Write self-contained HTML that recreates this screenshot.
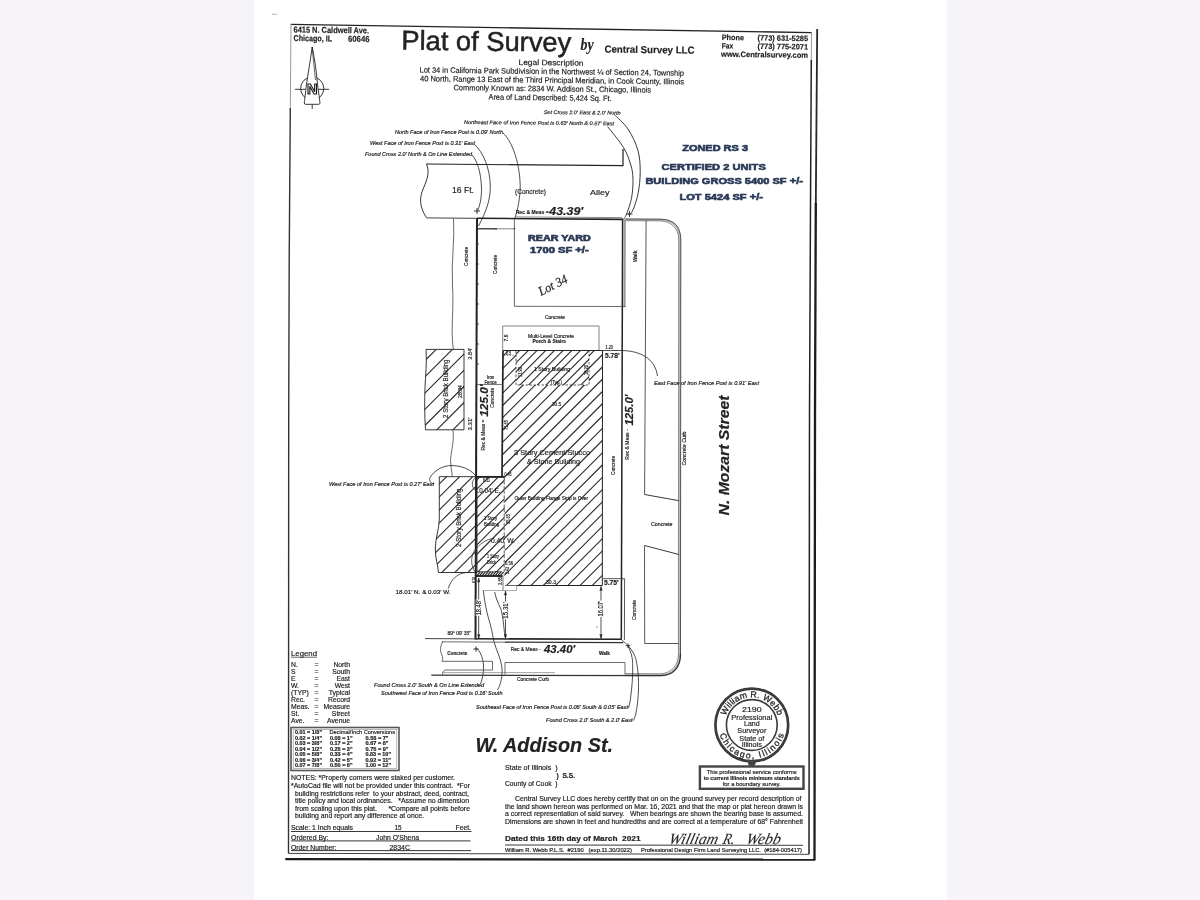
<!DOCTYPE html>
<html lang="en">
<head>
<meta charset="utf-8">
<title>Plat of Survey</title>
<style>
html,body{margin:0;padding:0;background:#f6f4f8;}
body{width:1200px;height:900px;overflow:hidden;position:relative;font-family:"Liberation Sans",sans-serif;}
#paper{position:absolute;left:254px;top:0;width:693px;height:900px;background:#fff;}
svg{position:absolute;left:0;top:0;}
svg text{font-family:"Liberation Sans",sans-serif;fill:#222;stroke:#222;stroke-width:0.18px;white-space:pre;}
</style>
</head>
<body>
<div id="paper"></div>
<svg width="1200" height="900" viewBox="0 0 1200 900" stroke="#222" fill="none">
<defs><filter id="soft" x="-2%" y="-2%" width="104%" height="104%"><feGaussianBlur stdDeviation="0.35"/></filter></defs>
<g filter="url(#soft)">
<path d="M290.8 24.4 L811.6 32.6" fill="none" stroke-width="1.4" />
<path d="M291 24.4 L290.3 110" fill="none" stroke="#999" />
<path d="M290.3 108 L289.2 260 L288.7 415 L288.5 853.5" fill="none" stroke-width="1.4" stroke="#333" />
<path d="M811.5 32.6 L811.3 62" fill="none" stroke="#999" />
<path d="M811.3 60 L810.5 205 L809.5 415 L809 854.3" fill="none" stroke-width="1.5" />
<path d="M288.5 853.4 L809 854.3" fill="none" stroke="#444" />
<path d="M817.2 29 L815.8 205" fill="none" stroke-width="1.8" stroke="#2a2a2a" />
<path d="M815.8 203 L815 415 L814.5 860" fill="none" stroke-width="2.3" stroke="#1a1a1a" />
<path d="M285.3 859.1 L815.3 859.6" fill="none" stroke-width="2.2" stroke="#1a1a1a" />
<line x1="272" y1="14.3" x2="277" y2="14.3" stroke-width="0.9" stroke="#aaa"/>
<text x="293.5" y="32.5" font-size="8.5" font-weight="bold" textLength="75.5" lengthAdjust="spacingAndGlyphs" transform="rotate(0.7 293.5 32.5)">6415 N. Caldwell Ave.</text>
<text x="293.5" y="41" font-size="8.5" font-weight="bold" textLength="38.5" lengthAdjust="spacingAndGlyphs" transform="rotate(0.7 293.5 41)">Chicago, IL</text>
<text x="348" y="41.7" font-size="8.5" font-weight="bold" textLength="21.5" lengthAdjust="spacingAndGlyphs" transform="rotate(0.7 348 41.7)">60646</text>
<text x="401.2" y="49.6" font-size="27.2" textLength="170" lengthAdjust="spacingAndGlyphs" transform="rotate(0.7 401 49.6)" style="stroke:#222;stroke-width:0.5">Plat of Survey</text>
<text x="580.5" y="50.3" font-size="17.5" font-weight="bold" font-style="italic" textLength="13" lengthAdjust="spacingAndGlyphs" style='font-family:"Liberation Serif",serif'>by</text>
<text x="604.4" y="52.5" font-size="10" font-weight="bold" textLength="90.2" lengthAdjust="spacingAndGlyphs" transform="rotate(0.7 604.4 52.5)">Central Survey LLC</text>
<text x="721.7" y="40" font-size="7.8" font-weight="bold" textLength="22.3" lengthAdjust="spacingAndGlyphs" transform="rotate(0.7 721.7 40)">Phone</text>
<text x="757.5" y="40.5" font-size="7.8" font-weight="bold" textLength="50.5" lengthAdjust="spacingAndGlyphs" transform="rotate(0.7 757.5 40.5)">(773) 631-5285</text>
<text x="721.7" y="48.4" font-size="7.8" font-weight="bold" textLength="11.5" lengthAdjust="spacingAndGlyphs" transform="rotate(0.7 721.7 48.4)">Fax</text>
<text x="757.5" y="48.9" font-size="7.8" font-weight="bold" textLength="50.5" lengthAdjust="spacingAndGlyphs" transform="rotate(0.7 757.5 48.9)">(773) 775-2071</text>
<text x="721" y="56.8" font-size="7.8" font-weight="bold" textLength="87" lengthAdjust="spacingAndGlyphs" transform="rotate(0.7 721 56.8)">www.Centralsurvey.com</text>
<text x="518.5" y="64.9" font-size="7.8" textLength="65" lengthAdjust="spacingAndGlyphs" transform="rotate(0.7 518.5 64.9)">Legal Description</text>
<text x="419.5" y="72.5" font-size="7.8" textLength="264.5" lengthAdjust="spacingAndGlyphs" transform="rotate(0.7 419.5 72.5)">Lot 34 in California Park Subdivision in the Northwest ¼ of Section 24, Township</text>
<text x="420" y="81.2" font-size="7.8" textLength="264" lengthAdjust="spacingAndGlyphs" transform="rotate(0.7 420 81.2)">40 North, Range 13 East of the Third Principal Meridian, in Cook County, Illinois</text>
<text x="453.5" y="90.2" font-size="7.8" textLength="197.5" lengthAdjust="spacingAndGlyphs" transform="rotate(0.7 453.5 90.2)">Commonly Known as: 2834 W. Addison St., Chicago, Illinois</text>
<text x="488.5" y="99.6" font-size="7.8" textLength="123" lengthAdjust="spacingAndGlyphs" transform="rotate(0.7 488.5 99.6)">Area of Land Described: 5,424 Sq. Ft.</text>
<circle cx="312.2" cy="88.5" r="11.6" stroke-width="0.9"/>
<line x1="295" y1="89.3" x2="329" y2="89.3" stroke-width="0.9"/>
<path d="M312.2 47 C310.5 60 308 73 306 88 C305.3 95 304.6 100 304.3 103 Q304.3 104.3 305.6 104.3 L318.7 104.3 Q320 104.3 320 103 C319.4 98 318.8 94 317.5 84 C316.5 72 314.5 58 312.2 47 Z" fill="#fff" stroke-width="0.9" />
<path d="M312.2 47 C313 58 314.5 70 315.5 80" fill="none" stroke-width="0.7" />
<line x1="312.2" y1="104.5" x2="312.2" y2="109" stroke-width="0.9"/>
<text x="312.3" y="94.4" font-size="14.2" text-anchor="middle" font-weight="bold" textLength="10.5" lengthAdjust="spacingAndGlyphs" style="fill:#fff;stroke:#151515;stroke-width:1.1">N</text>
<text x="543.7" y="114" font-size="5.2" font-style="italic" textLength="77" lengthAdjust="spacingAndGlyphs" transform="rotate(0.5 543.7 114)">Set Cross 2.0' East &amp; 2.0' North</text>
<text x="464" y="124" font-size="5.2" font-style="italic" textLength="150" lengthAdjust="spacingAndGlyphs" transform="rotate(0.5 464 124)">Northeast Face of Iron Fence Post is 0.63' North &amp; 0.57' East</text>
<text x="395" y="134" font-size="5.2" font-style="italic" textLength="108" lengthAdjust="spacingAndGlyphs">North Face of Iron Fence Post is 0.09' North</text>
<text x="370" y="145" font-size="5.2" font-style="italic" textLength="105" lengthAdjust="spacingAndGlyphs">West Face of Iron Fence Post is 0.31' East</text>
<text x="365" y="156" font-size="5.2" font-style="italic" textLength="107" lengthAdjust="spacingAndGlyphs">Found Cross 2.0' North &amp; On Line Extended</text>
<path d="M472 155 C477 160 481 172 481.5 188 C481.7 198 480 205 477.5 211" fill="none" stroke-width="0.8" />
<path d="M474.5 144.5 C483 152 490 168 490.3 186 C490.5 200 486 212 478.5 226" fill="none" stroke-width="0.8" />
<path d="M503 133 C511 140 519.5 160 520.2 185 C520.4 198 517.5 210 515 218" fill="none" stroke-width="0.8" />
<path d="M614.2 114.5 C616.5 116.9 623.9 122.9 627.9 128.9 C631.9 134.9 636.0 143.4 638.0 150.6 C640.0 157.8 640.2 165.1 640.2 172.3 C640.2 179.5 639.3 187.4 638.0 193.9 C636.7 200.4 634.0 207.9 632.3 211.3 C630.6 214.7 628.6 213.7 627.9 214.2" fill="none" stroke-width="0.9" />
<path d="M607.7 126.7 C610.4 130.2 619.8 141.3 623.6 147.7 C627.5 154.1 629.2 159.7 630.8 165.0 C632.4 170.3 632.9 173.9 633.0 179.5 C633.1 185.1 632.6 192.5 631.5 198.3 C630.4 204.1 627.7 210.9 626.5 214.2 C625.3 217.4 624.7 217.2 624.3 217.8" fill="none" stroke-width="0.9" />
<text x="682.2" y="151.2" font-size="8.5" font-weight="bold" textLength="65.8" lengthAdjust="spacingAndGlyphs" style="fill:#2a3a57;stroke:#2a3a57;stroke-width:0.6">ZONED RS 3</text>
<text x="661.5" y="169.7" font-size="8.9" font-weight="bold" textLength="104.3" lengthAdjust="spacingAndGlyphs" style="fill:#2a3a57;stroke:#2a3a57;stroke-width:0.6">CERTIFIED 2 UNITS</text>
<text x="645.4" y="183.9" font-size="8.9" font-weight="bold" textLength="157.5" lengthAdjust="spacingAndGlyphs" style="fill:#2a3a57;stroke:#2a3a57;stroke-width:0.6">BUILDING GROSS 5400 SF +/-</text>
<text x="679.4" y="199.9" font-size="8.9" font-weight="bold" textLength="83.6" lengthAdjust="spacingAndGlyphs" style="fill:#2a3a57;stroke:#2a3a57;stroke-width:0.6">LOT 5424 SF +/-</text>
<text x="528" y="241.4" font-size="8.2" font-weight="bold" textLength="62.7" lengthAdjust="spacingAndGlyphs" style="fill:#2a3a57;stroke:#2a3a57;stroke-width:0.6">REAR YARD</text>
<text x="530" y="252.6" font-size="8.6" font-weight="bold" textLength="58.7" lengthAdjust="spacingAndGlyphs" style="fill:#2a3a57;stroke:#2a3a57;stroke-width:0.6">1700 SF +/-</text>
<path d="M426.5 164 L623 165.7 L623 149" fill="none" stroke-width="1.2" />
<path d="M426.5 164 C430 172 427 180 423.5 188 C419 198 419.5 207 426.5 217.8" fill="none" stroke-width="0.9" />
<text x="452" y="193" font-size="9" textLength="22" lengthAdjust="spacingAndGlyphs">16 Ft.</text>
<text x="515" y="193.5" font-size="6.8" textLength="31" lengthAdjust="spacingAndGlyphs">(Concrete)</text>
<text x="590" y="195" font-size="8" textLength="19.5" lengthAdjust="spacingAndGlyphs">Alley</text>
<text x="515.7" y="214" font-size="5.4" font-weight="bold" textLength="33" lengthAdjust="spacingAndGlyphs">Rec &amp; Meas =</text>
<text x="549.3" y="215" font-size="10.8" font-weight="bold" font-style="italic" textLength="34" lengthAdjust="spacingAndGlyphs">43.39'</text>
<path d="M626 219.6 L661 219.9 C673 220 679.8 227 679.8 240 L679.5 654" fill="none" stroke-width="2.4" stroke="#bdbdbd" />
<path d="M426.5 217.9 L477 218.3" fill="none" stroke="#444" />
<path d="M622 219 L661 219.2 C673.5 219.4 680.8 226 680.8 240 L680.5 654" fill="none" stroke-width="0.9" stroke="#444" />
<path d="M626 220.7 L660 220.9 C671 221.1 678.7 228 678.7 240 L678.4 654" fill="none" stroke-width="0.7" stroke="#666" />
<path d="M477 218.3 L475.5 639.5" fill="none" stroke-width="2.0" />
<path d="M622.6 219.3 L621.3 639.5" fill="none" stroke-width="1.5" />
<path d="M477 218.3 L622.6 219.4" fill="none" stroke-width="1.6" />
<path d="M475.5 638.8 L621.3 639.3" fill="none" stroke-width="1.6" />
<path d="M624.7 220 L624.5 306.5" fill="none" stroke-width="2.2" stroke="#9a9a9a" />
<path d="M514.4 219 L514.4 306.3 L625.8 306.5" fill="none" stroke-width="0.8" stroke="#444" />
<path d="M514.5 216.9 L622 217.6" fill="none" stroke="#888" />
<path d="M477 228.8 L495 228.8" fill="none" stroke-width="1.2" />
<path d="M495 228.8 L514.7 228.8" fill="none" stroke-width="1.2" stroke="#999" />
<circle cx="496" cy="228.8" r="0.9" fill="#222" stroke="none"/>
<circle cx="514.5" cy="228.8" r="0.8" fill="#222" stroke="none"/>
<line x1="474" y1="211" x2="480" y2="211" stroke-width="0.9"/>
<line x1="477" y1="208" x2="477" y2="214" stroke-width="0.9"/>
<line x1="626.5" y1="214" x2="632.5" y2="214" stroke-width="0.9"/>
<line x1="629.5" y1="211" x2="629.5" y2="217" stroke-width="0.9"/>
<circle cx="478" cy="244" r="0.7" fill="#222" stroke="none"/>
<circle cx="478" cy="264" r="0.7" fill="#222" stroke="none"/>
<circle cx="478" cy="284" r="0.7" fill="#222" stroke="none"/>
<circle cx="478" cy="304" r="0.7" fill="#222" stroke="none"/>
<circle cx="478" cy="324" r="0.7" fill="#222" stroke="none"/>
<circle cx="478" cy="344" r="0.7" fill="#222" stroke="none"/>
<circle cx="478" cy="364" r="0.7" fill="#222" stroke="none"/>
<text x="468" y="266" font-size="5" textLength="19" lengthAdjust="spacingAndGlyphs" transform="rotate(-90 468 266)">Concrete</text>
<text x="496.5" y="274" font-size="5" textLength="19" lengthAdjust="spacingAndGlyphs" transform="rotate(-90 496.5 274)">Concrete</text>
<text x="637.3" y="262" font-size="5.4" font-weight="bold" textLength="11.5" lengthAdjust="spacingAndGlyphs" transform="rotate(-90 637.3 262)">Walk</text>
<path d="M453.5 218.5 C455 240 451 262 452.5 285 C454 310 450.5 330 453.3 349.4" fill="none" stroke-width="0.8" stroke="#444" />
<text x="541" y="296" font-size="13" font-style="italic" textLength="31" lengthAdjust="spacingAndGlyphs" transform="rotate(-27 541 296)" style='font-family:"Liberation Serif",serif'>Lot 34</text>
<text x="545" y="319" font-size="5" textLength="20" lengthAdjust="spacingAndGlyphs">Concrete</text>
<path d="M646.1 220.5 L644.6 494.5" fill="none" stroke-width="0.9" stroke="#444" />
<path d="M644.5 545.5 L644.7 643.5 L678.5 643.5" fill="none" stroke-width="0.9" stroke="#444" />
<path d="M644.6 494.5 L679 500.7" fill="none" stroke="#3a3a3a" />
<path d="M644.5 545.5 L679 554.5" fill="none" stroke="#3a3a3a" />
<text x="651" y="525.5" font-size="5" textLength="21.5" lengthAdjust="spacingAndGlyphs">Concrete</text>
<text x="686" y="465.5" font-size="5" textLength="34" lengthAdjust="spacingAndGlyphs" transform="rotate(-90 686 465.5)">Concrete Curb</text>
<text x="635.8" y="620" font-size="5" textLength="20" lengthAdjust="spacingAndGlyphs" transform="rotate(-90 635.8 620)">Concrete</text>
<path d="M502.7 350.5 L502.7 326 L599 326 L599 350.5" fill="none" stroke-width="0.8" stroke="#666" />
<text x="528" y="337.5" font-size="5" textLength="46" lengthAdjust="spacingAndGlyphs">Multi-Level Concrete</text>
<text x="532.5" y="343" font-size="5" font-weight="bold" textLength="33.5" lengthAdjust="spacingAndGlyphs">Porch &amp; Stairs</text>
<text x="507.5" y="341.5" font-size="5" textLength="7" lengthAdjust="spacingAndGlyphs" transform="rotate(-90 507.5 341.5)">7.6</text>
<clipPath id="ho"><path d="M476.5 477 L504.6 477 L504.6 572 L476 572 Z"/></clipPath>
<g clip-path="url(#ho)" stroke="#2a2a2a" stroke-width="1.1">
<line x1="400" y1="333.5" x2="640" y2="93.5"/>
<line x1="400" y1="342.8" x2="640" y2="102.8"/>
<line x1="400" y1="352.1" x2="640" y2="112.1"/>
<line x1="400" y1="361.4" x2="640" y2="121.4"/>
<line x1="400" y1="370.7" x2="640" y2="130.7"/>
<line x1="400" y1="380.0" x2="640" y2="140.0"/>
<line x1="400" y1="389.3" x2="640" y2="149.3"/>
<line x1="400" y1="398.6" x2="640" y2="158.6"/>
<line x1="400" y1="407.9" x2="640" y2="167.9"/>
<line x1="400" y1="417.2" x2="640" y2="177.2"/>
<line x1="400" y1="426.5" x2="640" y2="186.5"/>
<line x1="400" y1="435.8" x2="640" y2="195.8"/>
<line x1="400" y1="445.1" x2="640" y2="205.1"/>
<line x1="400" y1="454.4" x2="640" y2="214.4"/>
<line x1="400" y1="463.7" x2="640" y2="223.7"/>
<line x1="400" y1="473.0" x2="640" y2="233.0"/>
<line x1="400" y1="482.3" x2="640" y2="242.3"/>
<line x1="400" y1="491.6" x2="640" y2="251.6"/>
<line x1="400" y1="500.9" x2="640" y2="260.9"/>
<line x1="400" y1="510.2" x2="640" y2="270.2"/>
<line x1="400" y1="519.5" x2="640" y2="279.5"/>
<line x1="400" y1="528.8" x2="640" y2="288.8"/>
<line x1="400" y1="538.1" x2="640" y2="298.1"/>
<line x1="400" y1="547.4" x2="640" y2="307.4"/>
<line x1="400" y1="556.7" x2="640" y2="316.7"/>
<line x1="400" y1="566.0" x2="640" y2="326.0"/>
<line x1="400" y1="575.3" x2="640" y2="335.3"/>
<line x1="400" y1="584.6" x2="640" y2="344.6"/>
<line x1="400" y1="593.9" x2="640" y2="353.9"/>
<line x1="400" y1="603.2" x2="640" y2="363.2"/>
<line x1="400" y1="612.5" x2="640" y2="372.5"/>
<line x1="400" y1="621.8" x2="640" y2="381.8"/>
<line x1="400" y1="631.1" x2="640" y2="391.1"/>
<line x1="400" y1="640.4" x2="640" y2="400.4"/>
<line x1="400" y1="649.7" x2="640" y2="409.7"/>
<line x1="400" y1="659.0" x2="640" y2="419.0"/>
<line x1="400" y1="668.3" x2="640" y2="428.3"/>
<line x1="400" y1="677.6" x2="640" y2="437.6"/>
<line x1="400" y1="686.9" x2="640" y2="446.9"/>
<line x1="400" y1="696.2" x2="640" y2="456.2"/>
<line x1="400" y1="705.5" x2="640" y2="465.5"/>
<line x1="400" y1="714.8" x2="640" y2="474.8"/>
<line x1="400" y1="724.1" x2="640" y2="484.1"/>
<line x1="400" y1="733.4" x2="640" y2="493.4"/>
<line x1="400" y1="742.7" x2="640" y2="502.7"/>
<line x1="400" y1="752.0" x2="640" y2="512.0"/>
<line x1="400" y1="761.3" x2="640" y2="521.3"/>
<line x1="400" y1="770.6" x2="640" y2="530.6"/>
<line x1="400" y1="779.9" x2="640" y2="539.9"/>
<line x1="400" y1="789.2" x2="640" y2="549.2"/>
<line x1="400" y1="798.5" x2="640" y2="558.5"/>
<line x1="400" y1="807.8" x2="640" y2="567.8"/>
<line x1="400" y1="817.1" x2="640" y2="577.1"/>
<line x1="400" y1="826.4" x2="640" y2="586.4"/>
<line x1="400" y1="835.7" x2="640" y2="595.7"/>
</g>
<clipPath id="hb"><path clip-rule="evenodd" d="M503 350.5 L602.5 350.5 L602.3 585.5 L505 585.5 L504.6 477 L502 477 Z M516 350.5 L589 350.5 L589 385 L516 385 Z"/></clipPath>
<g clip-path="url(#hb)" stroke="#2a2a2a" stroke-width="1.1">
<line x1="400" y1="336.4" x2="640" y2="96.4"/>
<line x1="400" y1="348.7" x2="640" y2="108.7"/>
<line x1="400" y1="360.9" x2="640" y2="120.9"/>
<line x1="400" y1="373.2" x2="640" y2="133.2"/>
<line x1="400" y1="385.5" x2="640" y2="145.5"/>
<line x1="400" y1="397.7" x2="640" y2="157.7"/>
<line x1="400" y1="410.0" x2="640" y2="170.0"/>
<line x1="400" y1="422.2" x2="640" y2="182.2"/>
<line x1="400" y1="434.5" x2="640" y2="194.5"/>
<line x1="400" y1="446.8" x2="640" y2="206.8"/>
<line x1="400" y1="459.0" x2="640" y2="219.0"/>
<line x1="400" y1="471.3" x2="640" y2="231.3"/>
<line x1="400" y1="483.5" x2="640" y2="243.5"/>
<line x1="400" y1="495.8" x2="640" y2="255.8"/>
<line x1="400" y1="508.1" x2="640" y2="268.1"/>
<line x1="400" y1="520.3" x2="640" y2="280.3"/>
<line x1="400" y1="532.6" x2="640" y2="292.6"/>
<line x1="400" y1="544.8" x2="640" y2="304.8"/>
<line x1="400" y1="557.1" x2="640" y2="317.1"/>
<line x1="400" y1="569.4" x2="640" y2="329.4"/>
<line x1="400" y1="581.6" x2="640" y2="341.6"/>
<line x1="400" y1="593.9" x2="640" y2="353.9"/>
<line x1="400" y1="606.1" x2="640" y2="366.1"/>
<line x1="400" y1="618.4" x2="640" y2="378.4"/>
<line x1="400" y1="630.7" x2="640" y2="390.7"/>
<line x1="400" y1="642.9" x2="640" y2="402.9"/>
<line x1="400" y1="655.2" x2="640" y2="415.2"/>
<line x1="400" y1="667.4" x2="640" y2="427.4"/>
<line x1="400" y1="679.7" x2="640" y2="439.7"/>
<line x1="400" y1="692.0" x2="640" y2="452.0"/>
<line x1="400" y1="704.2" x2="640" y2="464.2"/>
<line x1="400" y1="716.5" x2="640" y2="476.5"/>
<line x1="400" y1="728.7" x2="640" y2="488.7"/>
<line x1="400" y1="741.0" x2="640" y2="501.0"/>
<line x1="400" y1="753.3" x2="640" y2="513.3"/>
<line x1="400" y1="765.5" x2="640" y2="525.5"/>
<line x1="400" y1="777.8" x2="640" y2="537.8"/>
<line x1="400" y1="790.0" x2="640" y2="550.0"/>
<line x1="400" y1="802.3" x2="640" y2="562.3"/>
<line x1="400" y1="814.6" x2="640" y2="574.6"/>
<line x1="400" y1="826.8" x2="640" y2="586.8"/>
<line x1="400" y1="839.1" x2="640" y2="599.1"/>
</g>
<clipPath id="hd"><path d="M516 350.5 L589 350.5 L589 385 L516 385 Z"/></clipPath>
<g clip-path="url(#hd)" stroke="#2a2a2a" stroke-width="1.1">
<line x1="400" y1="330.9" x2="640" y2="90.9"/>
<line x1="400" y1="339.6" x2="640" y2="99.6"/>
<line x1="400" y1="348.3" x2="640" y2="108.3"/>
<line x1="400" y1="357.0" x2="640" y2="117.0"/>
<line x1="400" y1="365.7" x2="640" y2="125.7"/>
<line x1="400" y1="374.4" x2="640" y2="134.4"/>
<line x1="400" y1="383.1" x2="640" y2="143.1"/>
<line x1="400" y1="391.8" x2="640" y2="151.8"/>
<line x1="400" y1="400.5" x2="640" y2="160.5"/>
<line x1="400" y1="409.2" x2="640" y2="169.2"/>
<line x1="400" y1="417.9" x2="640" y2="177.9"/>
<line x1="400" y1="426.6" x2="640" y2="186.6"/>
<line x1="400" y1="435.3" x2="640" y2="195.3"/>
<line x1="400" y1="444.0" x2="640" y2="204.0"/>
<line x1="400" y1="452.7" x2="640" y2="212.7"/>
<line x1="400" y1="461.4" x2="640" y2="221.4"/>
<line x1="400" y1="470.1" x2="640" y2="230.1"/>
<line x1="400" y1="478.8" x2="640" y2="238.8"/>
<line x1="400" y1="487.5" x2="640" y2="247.5"/>
<line x1="400" y1="496.2" x2="640" y2="256.2"/>
<line x1="400" y1="504.9" x2="640" y2="264.9"/>
<line x1="400" y1="513.6" x2="640" y2="273.6"/>
<line x1="400" y1="522.3" x2="640" y2="282.3"/>
<line x1="400" y1="531.0" x2="640" y2="291.0"/>
<line x1="400" y1="539.7" x2="640" y2="299.7"/>
<line x1="400" y1="548.4" x2="640" y2="308.4"/>
<line x1="400" y1="557.1" x2="640" y2="317.1"/>
<line x1="400" y1="565.8" x2="640" y2="325.8"/>
<line x1="400" y1="574.5" x2="640" y2="334.5"/>
<line x1="400" y1="583.2" x2="640" y2="343.2"/>
<line x1="400" y1="591.9" x2="640" y2="351.9"/>
<line x1="400" y1="600.6" x2="640" y2="360.6"/>
<line x1="400" y1="609.3" x2="640" y2="369.3"/>
<line x1="400" y1="618.0" x2="640" y2="378.0"/>
<line x1="400" y1="626.7" x2="640" y2="386.7"/>
<line x1="400" y1="635.4" x2="640" y2="395.4"/>
<line x1="400" y1="644.1" x2="640" y2="404.1"/>
<line x1="400" y1="652.8" x2="640" y2="412.8"/>
<line x1="400" y1="661.5" x2="640" y2="421.5"/>
<line x1="400" y1="670.2" x2="640" y2="430.2"/>
<line x1="400" y1="678.9" x2="640" y2="438.9"/>
<line x1="400" y1="687.6" x2="640" y2="447.6"/>
<line x1="400" y1="696.3" x2="640" y2="456.3"/>
<line x1="400" y1="705.0" x2="640" y2="465.0"/>
<line x1="400" y1="713.7" x2="640" y2="473.7"/>
<line x1="400" y1="722.4" x2="640" y2="482.4"/>
<line x1="400" y1="731.1" x2="640" y2="491.1"/>
<line x1="400" y1="739.8" x2="640" y2="499.8"/>
<line x1="400" y1="748.5" x2="640" y2="508.5"/>
<line x1="400" y1="757.2" x2="640" y2="517.2"/>
<line x1="400" y1="765.9" x2="640" y2="525.9"/>
<line x1="400" y1="774.6" x2="640" y2="534.6"/>
<line x1="400" y1="783.3" x2="640" y2="543.3"/>
<line x1="400" y1="792.0" x2="640" y2="552.0"/>
<line x1="400" y1="800.7" x2="640" y2="560.7"/>
<line x1="400" y1="809.4" x2="640" y2="569.4"/>
<line x1="400" y1="818.1" x2="640" y2="578.1"/>
<line x1="400" y1="826.8" x2="640" y2="586.8"/>
<line x1="400" y1="835.5" x2="640" y2="595.5"/>
</g>
<path d="M503 350.5 L602.5 350.5 L602.3 585.5 L505 585.5" fill="none" />
<path d="M503 350.5 L502 477" fill="none" stroke-width="1.7" />
<path d="M476.5 476.9 L504.7 476.9" fill="none" stroke-width="1.9" />
<path d="M475.8 576 L502.5 576" fill="none" stroke-width="1.9" />
<path d="M477.0 575.6 l3.2 -3.8 M479.6 575.6 l3.2 -3.8 M482.2 575.6 l3.2 -3.8 M484.8 575.6 l3.2 -3.8 M487.4 575.6 l3.2 -3.8 M490.0 575.6 l3.2 -3.8 M492.6 575.6 l3.2 -3.8 M495.2 575.6 l3.2 -3.8 M497.8 575.6 l3.2 -3.8 M500.4 575.6 l3.2 -3.8 " fill="none" stroke-width="1.1" />
<path d="M477 571.8 L502 571.8" fill="none" stroke-width="0.8" />
<path d="M516 350.5 L516 385 L589 385 L589 350.5" fill="none" stroke-width="0.8" stroke="#333" stroke-dasharray="2.5 1.5" />
<path d="M504 355.5 L516 355.5" fill="none" stroke-width="0.5" stroke="#444" stroke-dasharray="1.5 1.2" />
<path d="M504.2 477 L504.2 576" fill="none" stroke-width="0.8" stroke="#333" stroke-dasharray="3 1.6" />
<path d="M477 384.5 L503 384.5" fill="none" stroke-width="0.8" stroke="#555" />
<text x="486.7" y="378.8" font-size="5" textLength="7.6" lengthAdjust="spacingAndGlyphs">Iron</text>
<text x="484.4" y="383.6" font-size="5" textLength="12.3" lengthAdjust="spacingAndGlyphs">Fence</text>
<path d="M602.5 350.5 L622 350.5 C640 351 655 358 657.5 376" fill="none" stroke-width="0.8" />
<text x="605.5" y="349" font-size="5" textLength="7.5" lengthAdjust="spacingAndGlyphs">1.20</text>
<text x="605" y="358.3" font-size="6.4" font-weight="bold" textLength="14.5" lengthAdjust="spacingAndGlyphs">5.78'</text>
<text x="654" y="384.5" font-size="5.2" font-style="italic" textLength="105" lengthAdjust="spacingAndGlyphs">East Face of Iron Fence Post is 0.91' East</text>
<text x="514" y="454.5" font-size="7.2" textLength="76" lengthAdjust="spacingAndGlyphs">3 Story Cement/Stucco</text>
<text x="527" y="463.5" font-size="7.2" textLength="53" lengthAdjust="spacingAndGlyphs">&amp; Stone Building</text>
<text x="514.5" y="499.5" font-size="5" textLength="73.5" lengthAdjust="spacingAndGlyphs">Outer Building Flange Strip is Over</text>
<text x="534" y="370.5" font-size="5" textLength="36" lengthAdjust="spacingAndGlyphs">1 Story Building</text>
<text x="551" y="384" font-size="5" textLength="11" lengthAdjust="spacingAndGlyphs">(Typ.)</text>
<text x="552" y="405.5" font-size="5" textLength="9" lengthAdjust="spacingAndGlyphs">30.5</text>
<text x="546" y="584" font-size="5" textLength="10" lengthAdjust="spacingAndGlyphs">30.3</text>
<text x="521.8" y="377" font-size="5" textLength="10" lengthAdjust="spacingAndGlyphs" transform="rotate(-90 521.8 377)">17.90</text>
<text x="587.5" y="375" font-size="5" textLength="10" lengthAdjust="spacingAndGlyphs" transform="rotate(-90 587.5 375)">18.20</text>
<text x="506" y="354.7" font-size="5" textLength="5" lengthAdjust="spacingAndGlyphs">2.5</text>
<text x="508" y="430" font-size="5" textLength="10" lengthAdjust="spacingAndGlyphs" transform="rotate(-90 508 430)">71.65</text>
<text x="479.3" y="493.4" font-size="8" textLength="21.2" lengthAdjust="spacingAndGlyphs">0.04' E.</text>
<text x="490.9" y="542.8" font-size="8" textLength="24.1" lengthAdjust="spacingAndGlyphs">0.40' W.</text>
<text x="484" y="520" font-size="5" textLength="13" lengthAdjust="spacingAndGlyphs">1 Story</text>
<text x="484" y="526" font-size="5" textLength="15" lengthAdjust="spacingAndGlyphs">Building</text>
<text x="487" y="558" font-size="5" textLength="12" lengthAdjust="spacingAndGlyphs">1 Story</text>
<text x="487" y="564" font-size="5" textLength="9" lengthAdjust="spacingAndGlyphs">Brick</text>
<text x="483" y="482" font-size="5" textLength="7" lengthAdjust="spacingAndGlyphs">6.51</text>
<text x="504.5" y="476" font-size="5" textLength="7" lengthAdjust="spacingAndGlyphs">0.45</text>
<text x="510" y="524" font-size="5" textLength="10" lengthAdjust="spacingAndGlyphs" transform="rotate(-90 510 524)">25.65</text>
<text x="505" y="565" font-size="5" textLength="8" lengthAdjust="spacingAndGlyphs">0.56</text>
<text x="509" y="574" font-size="5" textLength="7" lengthAdjust="spacingAndGlyphs" transform="rotate(-90 509 574)">3.43</text>
<path d="M475.5 477.5 C471 481 470.5 489 479 492.8" fill="none" stroke-width="0.7" />
<path d="M490.9 538.7 C484 541 479 545 476.4 548.4 C471 553 469.5 565 475.6 572.5" fill="none" stroke-width="0.7" />
<text x="471.8" y="359.4" font-size="5.4" textLength="11.6" lengthAdjust="spacingAndGlyphs" transform="rotate(-90 471.8 359.4)">3.84'</text>
<text x="471.8" y="430.5" font-size="5.4" textLength="13" lengthAdjust="spacingAndGlyphs" transform="rotate(-90 471.8 430.5)">3.31'</text>
<text x="488.4" y="416.7" font-size="11.4" font-weight="bold" font-style="italic" textLength="32.3" lengthAdjust="spacingAndGlyphs" transform="rotate(-90 488.4 416.7)">125.0'</text>
<text x="484.8" y="450.6" font-size="5.4" textLength="31" lengthAdjust="spacingAndGlyphs" transform="rotate(-90 484.8 450.6)">Rec &amp; Meas =</text>
<text x="494.2" y="407.8" font-size="5" textLength="20" lengthAdjust="spacingAndGlyphs" transform="rotate(-90 494.2 407.8)">Concrete</text>
<text x="632.6" y="425.6" font-size="11.8" font-weight="bold" font-style="italic" textLength="31" lengthAdjust="spacingAndGlyphs" transform="rotate(-90 632.6 425.6)">125.0'</text>
<text x="628.9" y="459.7" font-size="5.4" textLength="30.3" lengthAdjust="spacingAndGlyphs" transform="rotate(-90 628.9 459.7)">Rec &amp; Meas -</text>
<text x="614.5" y="475" font-size="5" textLength="19" lengthAdjust="spacingAndGlyphs" transform="rotate(-90 614.5 475)">Concrete</text>
<clipPath id="hn1"><path d="M426 349.4 L464 349.4 L464 429.8 L425.5 429.8 C424.5 415 424.5 400 425 388 C425.5 375 427 362 426 349.4 Z"/></clipPath>
<g clip-path="url(#hn1)" stroke="#2a2a2a" stroke-width="1.1">
<line x1="400" y1="337.0" x2="640" y2="97.0"/>
<line x1="400" y1="353.2" x2="640" y2="113.2"/>
<line x1="400" y1="369.4" x2="640" y2="129.4"/>
<line x1="400" y1="385.6" x2="640" y2="145.6"/>
<line x1="400" y1="401.8" x2="640" y2="161.8"/>
<line x1="400" y1="418.0" x2="640" y2="178.0"/>
<line x1="400" y1="434.2" x2="640" y2="194.2"/>
<line x1="400" y1="450.4" x2="640" y2="210.4"/>
<line x1="400" y1="466.6" x2="640" y2="226.6"/>
<line x1="400" y1="482.8" x2="640" y2="242.8"/>
<line x1="400" y1="499.0" x2="640" y2="259.0"/>
<line x1="400" y1="515.2" x2="640" y2="275.2"/>
<line x1="400" y1="531.4" x2="640" y2="291.4"/>
<line x1="400" y1="547.6" x2="640" y2="307.6"/>
<line x1="400" y1="563.8" x2="640" y2="323.8"/>
<line x1="400" y1="580.0" x2="640" y2="340.0"/>
<line x1="400" y1="596.2" x2="640" y2="356.2"/>
<line x1="400" y1="612.4" x2="640" y2="372.4"/>
<line x1="400" y1="628.6" x2="640" y2="388.6"/>
<line x1="400" y1="644.8" x2="640" y2="404.8"/>
<line x1="400" y1="661.0" x2="640" y2="421.0"/>
<line x1="400" y1="677.2" x2="640" y2="437.2"/>
<line x1="400" y1="693.4" x2="640" y2="453.4"/>
<line x1="400" y1="709.6" x2="640" y2="469.6"/>
<line x1="400" y1="725.8" x2="640" y2="485.8"/>
<line x1="400" y1="742.0" x2="640" y2="502.0"/>
<line x1="400" y1="758.2" x2="640" y2="518.2"/>
<line x1="400" y1="774.4" x2="640" y2="534.4"/>
<line x1="400" y1="790.6" x2="640" y2="550.6"/>
<line x1="400" y1="806.8" x2="640" y2="566.8"/>
<line x1="400" y1="823.0" x2="640" y2="583.0"/>
<line x1="400" y1="839.2" x2="640" y2="599.2"/>
</g>
<path d="M426 349.4 L464 349.4 L464 429.8 L425.5 429.8 C424.5 415 424.5 400 425 388 C425.5 375 427 362 426 349.4 Z" fill="none" stroke-width="0.9" />
<text x="447.5" y="418" font-size="6.6" textLength="58.5" lengthAdjust="spacingAndGlyphs" transform="rotate(-90 447.5 418)">2 Story Brick Building</text>
<text x="462" y="398" font-size="5" textLength="13" lengthAdjust="spacingAndGlyphs" transform="rotate(-90 462 398)">28.34</text>
<clipPath id="hn2"><path d="M439.3 476.7 L477 476.7 L477 572.5 L438.5 572.5 C438 565 435 558 435.3 548 C435.5 538 439 530 439.3 519 Z"/></clipPath>
<g clip-path="url(#hn2)" stroke="#2a2a2a" stroke-width="1.1">
<line x1="400" y1="341.3" x2="640" y2="101.3"/>
<line x1="400" y1="354.3" x2="640" y2="114.3"/>
<line x1="400" y1="367.3" x2="640" y2="127.3"/>
<line x1="400" y1="380.3" x2="640" y2="140.3"/>
<line x1="400" y1="393.3" x2="640" y2="153.3"/>
<line x1="400" y1="406.3" x2="640" y2="166.3"/>
<line x1="400" y1="419.3" x2="640" y2="179.3"/>
<line x1="400" y1="432.3" x2="640" y2="192.3"/>
<line x1="400" y1="445.3" x2="640" y2="205.3"/>
<line x1="400" y1="458.3" x2="640" y2="218.3"/>
<line x1="400" y1="471.3" x2="640" y2="231.3"/>
<line x1="400" y1="484.3" x2="640" y2="244.3"/>
<line x1="400" y1="497.3" x2="640" y2="257.3"/>
<line x1="400" y1="510.3" x2="640" y2="270.3"/>
<line x1="400" y1="523.3" x2="640" y2="283.3"/>
<line x1="400" y1="536.3" x2="640" y2="296.3"/>
<line x1="400" y1="549.3" x2="640" y2="309.3"/>
<line x1="400" y1="562.3" x2="640" y2="322.3"/>
<line x1="400" y1="575.3" x2="640" y2="335.3"/>
<line x1="400" y1="588.3" x2="640" y2="348.3"/>
<line x1="400" y1="601.3" x2="640" y2="361.3"/>
<line x1="400" y1="614.3" x2="640" y2="374.3"/>
<line x1="400" y1="627.3" x2="640" y2="387.3"/>
<line x1="400" y1="640.3" x2="640" y2="400.3"/>
<line x1="400" y1="653.3" x2="640" y2="413.3"/>
<line x1="400" y1="666.3" x2="640" y2="426.3"/>
<line x1="400" y1="679.3" x2="640" y2="439.3"/>
<line x1="400" y1="692.3" x2="640" y2="452.3"/>
<line x1="400" y1="705.3" x2="640" y2="465.3"/>
<line x1="400" y1="718.3" x2="640" y2="478.3"/>
<line x1="400" y1="731.3" x2="640" y2="491.3"/>
<line x1="400" y1="744.3" x2="640" y2="504.3"/>
<line x1="400" y1="757.3" x2="640" y2="517.3"/>
<line x1="400" y1="770.3" x2="640" y2="530.3"/>
<line x1="400" y1="783.3" x2="640" y2="543.3"/>
<line x1="400" y1="796.3" x2="640" y2="556.3"/>
<line x1="400" y1="809.3" x2="640" y2="569.3"/>
<line x1="400" y1="822.3" x2="640" y2="582.3"/>
<line x1="400" y1="835.3" x2="640" y2="595.3"/>
</g>
<path d="M439.3 476.7 L477 476.7 L477 572.5 L438.5 572.5 C438 565 435 558 435.3 548 C435.5 538 439 530 439.3 519 Z" fill="none" stroke-width="0.9" />
<text x="461" y="547" font-size="6.6" textLength="58.5" lengthAdjust="spacingAndGlyphs" transform="rotate(-90 461 547)">2 Story Brick Building</text>
<path d="M452.8 429.8 C455 440 450 455 450.6 462 C451 468 452 472 452.2 476.7" fill="none" stroke-width="0.8" stroke="#444" />
<path d="M476 476.5 C473 472 466 466 452 465.5 C442 465.5 434 471 430 477.5 C429 480 430 483 434 484" fill="none" stroke-width="0.8" />
<text x="329" y="486" font-size="5.2" font-style="italic" textLength="105" lengthAdjust="spacingAndGlyphs">West Face of Iron Fence Post is 0.27' East</text>
<path d="M466.7 572.5 C458 573 451 579 448.2 588.6" fill="none" stroke-width="0.8" />
<text x="395.5" y="594" font-size="5.6" textLength="55" lengthAdjust="spacingAndGlyphs">18.01' N. &amp; 0.03' W.</text>
<text x="604" y="584.8" font-size="6.4" font-weight="bold" textLength="14.7" lengthAdjust="spacingAndGlyphs">5.75'</text>
<path d="M602.7 578.7 L624.6 578.7 L624.4 640" fill="none" stroke-width="0.9" stroke="#444" />
<path d="M505 585.5 L516.5 585.5 L516.5 590.5 L482.5 590.5" fill="none" stroke-width="0.7" stroke="#888" />
<path d="M503 576 L503 590.5" fill="none" stroke-width="0.8" stroke="#555" />
<text x="502" y="585" font-size="5" textLength="8" lengthAdjust="spacingAndGlyphs" transform="rotate(-90 502 585)">2.65</text>
<text x="476" y="583" font-size="5" textLength="6" lengthAdjust="spacingAndGlyphs" transform="rotate(-90 476 583)">0.70</text>
<line x1="478.7" y1="578" x2="478.7" y2="638.5" stroke-width="0.8"/>
<path d="M478.7 578 l-1.3 4 l2.6 0 Z" fill="#2a2a2a" stroke-width="0.3" />
<path d="M478.7 638.5 l-1.3 -4 l2.6 0 Z" fill="#2a2a2a" stroke-width="0.3" />
<rect x="475.7" y="599.5" width="6" height="16.3" fill="#fff" stroke="none"/>
<text x="481.09999999999997" y="615.3" font-size="6.6" textLength="15.3" lengthAdjust="spacingAndGlyphs" transform="rotate(-90 481.09999999999997 615.3)">18.48'</text>
<line x1="505.5" y1="591" x2="505.5" y2="638.5" stroke-width="0.8"/>
<path d="M505.5 591 l-1.3 4 l2.6 0 Z" fill="#2a2a2a" stroke-width="0.3" />
<path d="M505.5 638.5 l-1.3 -4 l2.6 0 Z" fill="#2a2a2a" stroke-width="0.3" />
<rect x="502.5" y="601.5" width="6" height="17.7" fill="#fff" stroke="none"/>
<text x="507.9" y="618.7" font-size="6.6" textLength="16.7" lengthAdjust="spacingAndGlyphs" transform="rotate(-90 507.9 618.7)">15.31'</text>
<line x1="601" y1="586.5" x2="601" y2="638.5" stroke-width="0.8"/>
<path d="M601 586.5 l-1.3 4 l2.6 0 Z" fill="#2a2a2a" stroke-width="0.3" />
<path d="M601 638.5 l-1.3 -4 l2.6 0 Z" fill="#2a2a2a" stroke-width="0.3" />
<rect x="598" y="600.5" width="6" height="16.5" fill="#fff" stroke="none"/>
<text x="603.4" y="616.5" font-size="6.6" textLength="15.5" lengthAdjust="spacingAndGlyphs" transform="rotate(-90 603.4 616.5)">16.07'</text>
<circle cx="597" cy="627" r="0.6" fill="#222" stroke="none"/>
<path d="M483.3 590.7 C484.5 600 486 610 489 620 C491.5 628 492.5 634 493.5 640 C496 650 501 658 502 668 C502.5 676 501 684 497.5 690" fill="none" stroke-width="0.8" />
<path d="M494.7 592 C495.5 597 498 603 500.5 608 C503 615 503.5 625 505 637" fill="none" stroke-width="0.8" />
<path d="M476 648 C479.5 650 483 657 483.5 665 C483.8 672 482.5 679 480.5 684" fill="none" stroke-width="0.8" />
<path d="M425 638.6 L477 638.9" fill="none" stroke="#444" />
<text x="447.5" y="635" font-size="4.6" textLength="23.5" lengthAdjust="spacingAndGlyphs">89° 09' 35"</text>
<path d="M442 641.8 L504.7 642.2" fill="none" stroke-width="0.8" stroke="#444" />
<path d="M504.7 642.2 L623.3 642.7" fill="none" stroke-width="1.3" stroke="#333" />
<path d="M443 641.3 C440 646 440 651 441.5 654 C443 657 443 659 442 661.3" fill="none" stroke-width="0.8" stroke="#444" />
<path d="M442 661.3 L492.5 661.3 L492.5 670 L446 670 C443.5 670 442.5 672 442.5 674.5" fill="none" stroke-width="0.8" stroke="#444" />
<path d="M505 674.5 L505 662.5 L625 662.5 L625 674.5" fill="none" stroke-width="0.8" stroke="#444" />
<path d="M625 675 L661 675 C673 674.8 679.6 667 679.5 654" fill="none" stroke-width="2.4" stroke="#bdbdbd" />
<path d="M431.3 675.2 L661 675.6 C673.5 675.4 680.6 667 680.5 654" fill="none" stroke-width="1.3" stroke="#333" />
<path d="M442.5 672.6 L555 672.6" fill="none" stroke-width="0.6" stroke="#666" />
<path d="M625 673.6 L660 673.8 C670.5 673.6 678.5 666 678.4 654" fill="none" stroke-width="0.7" stroke="#666" />
<text x="447.3" y="654.7" font-size="5.8" font-weight="bold" textLength="20" lengthAdjust="spacingAndGlyphs">Concrete</text>
<line x1="473.4" y1="649" x2="478.6" y2="649" stroke-width="0.9"/>
<line x1="476" y1="646.4" x2="476" y2="651.6" stroke-width="0.9"/>
<text x="510.7" y="651" font-size="5.2" textLength="30" lengthAdjust="spacingAndGlyphs">Rec &amp; Meas -</text>
<text x="544" y="653.3" font-size="11.2" font-weight="bold" font-style="italic" textLength="31.3" lengthAdjust="spacingAndGlyphs">43.40'</text>
<text x="599" y="654.8" font-size="5" font-weight="bold" textLength="11" lengthAdjust="spacingAndGlyphs">Walk</text>
<text x="517" y="680.5" font-size="5" textLength="32" lengthAdjust="spacingAndGlyphs">Concrete Curb</text>
<line x1="625.7" y1="645.7" x2="630.3" y2="645.7" stroke-width="0.9"/>
<line x1="628" y1="643.4000000000001" x2="628" y2="648.0" stroke-width="0.9"/>
<path d="M621.3 639.3 L628 645.7" fill="none" stroke-width="0.7" />
<text x="374" y="686.6" font-size="5.2" font-style="italic" textLength="110" lengthAdjust="spacingAndGlyphs">Found Cross 2.0' South &amp; On Line Extended</text>
<text x="381" y="695.4" font-size="5.2" font-style="italic" textLength="121.5" lengthAdjust="spacingAndGlyphs">Southwest Face of Iron Fence Post is 0.16' South</text>
<text x="476" y="709" font-size="5.2" font-style="italic" textLength="152" lengthAdjust="spacingAndGlyphs">Southeast Face of Iron Fence Post is 0.08' South &amp; 0.05' East</text>
<text x="546" y="722.3" font-size="5.2" font-style="italic" textLength="86.5" lengthAdjust="spacingAndGlyphs">Found Cross 2.0' South &amp; 2.0' East</text>
<path d="M628 645.7 C631 652 632.7 658 632.7 663.3 C633 675 632 688 630.5 698 C630 703 629 706 628.5 708" fill="none" stroke-width="0.8" />
<path d="M628 645.7 C633 651 636 657 636.7 663.3 C639 675 639 690 637.5 703 C636.5 712 635 718 633 721" fill="none" stroke-width="0.8" />
<text x="475.5" y="751.7" font-size="21" font-weight="bold" font-style="italic" textLength="137.5" lengthAdjust="spacingAndGlyphs">W. Addison St.</text>
<text x="728.6" y="515.5" font-size="14.6" font-weight="bold" font-style="italic" textLength="120" lengthAdjust="spacingAndGlyphs" transform="rotate(-90 728.6 515.5)">N. Mozart Street</text>
<text x="291" y="655.8" font-size="8" textLength="26" lengthAdjust="spacingAndGlyphs">Legend</text>
<line x1="291" y1="657.2" x2="317" y2="657.2" stroke-width="0.7"/>
<text x="291" y="666.5" font-size="6.8">N.</text>
<text x="314.5" y="666.5" font-size="6.8">=</text>
<text x="350" y="666.5" font-size="6.8" text-anchor="end">North</text>
<text x="291" y="673.5" font-size="6.8">S</text>
<text x="314.5" y="673.5" font-size="6.8">=</text>
<text x="350" y="673.5" font-size="6.8" text-anchor="end">South</text>
<text x="291" y="680.6" font-size="6.8">E</text>
<text x="314.5" y="680.6" font-size="6.8">=</text>
<text x="350" y="680.6" font-size="6.8" text-anchor="end">East</text>
<text x="291" y="687.6" font-size="6.8">W.</text>
<text x="314.5" y="687.6" font-size="6.8">=</text>
<text x="350" y="687.6" font-size="6.8" text-anchor="end">West</text>
<text x="291" y="694.6" font-size="6.8">(TYP)</text>
<text x="314.5" y="694.6" font-size="6.8">=</text>
<text x="350" y="694.6" font-size="6.8" text-anchor="end">Typical</text>
<text x="291" y="701.6" font-size="6.8">Rec.</text>
<text x="314.5" y="701.6" font-size="6.8">=</text>
<text x="350" y="701.6" font-size="6.8" text-anchor="end">Record</text>
<text x="291" y="708.7" font-size="6.8">Meas.</text>
<text x="314.5" y="708.7" font-size="6.8">=</text>
<text x="350" y="708.7" font-size="6.8" text-anchor="end">Measure</text>
<text x="291" y="715.7" font-size="6.8">St.</text>
<text x="314.5" y="715.7" font-size="6.8">=</text>
<text x="350" y="715.7" font-size="6.8" text-anchor="end">Street</text>
<text x="291" y="722.7" font-size="6.8">Ave.</text>
<text x="314.5" y="722.7" font-size="6.8">=</text>
<text x="350" y="722.7" font-size="6.8" text-anchor="end">Avenue</text>
<rect x="291" y="727.5" width="108" height="43" stroke="#555" stroke-width="1.6"/>
<rect x="293.2" y="729.6" width="103.6" height="38.8" stroke="#888" stroke-width="0.6"/>
<text x="329.5" y="733.6" font-size="5.8" textLength="65.5" lengthAdjust="spacingAndGlyphs">Decimal/Inch Conversions</text>
<text x="295" y="734.1" font-size="5" font-weight="bold" textLength="27" lengthAdjust="spacingAndGlyphs">0.01 = 1/8"</text>
<text x="295" y="739.6" font-size="5" font-weight="bold" textLength="27" lengthAdjust="spacingAndGlyphs">0.02 = 1/4"</text>
<text x="330" y="739.6" font-size="5" font-weight="bold" textLength="22.5" lengthAdjust="spacingAndGlyphs">0.08 = 1"</text>
<text x="365.5" y="739.6" font-size="5" font-weight="bold" textLength="23" lengthAdjust="spacingAndGlyphs">0.58 = 7"</text>
<text x="295" y="745.0" font-size="5" font-weight="bold" textLength="27" lengthAdjust="spacingAndGlyphs">0.03 = 3/8"</text>
<text x="330" y="745.0" font-size="5" font-weight="bold" textLength="22.5" lengthAdjust="spacingAndGlyphs">0.17 = 2"</text>
<text x="365.5" y="745.0" font-size="5" font-weight="bold" textLength="23" lengthAdjust="spacingAndGlyphs">0.67 = 8"</text>
<text x="295" y="750.5" font-size="5" font-weight="bold" textLength="27" lengthAdjust="spacingAndGlyphs">0.04 = 1/2"</text>
<text x="330" y="750.5" font-size="5" font-weight="bold" textLength="22.5" lengthAdjust="spacingAndGlyphs">0.25 = 3"</text>
<text x="365.5" y="750.5" font-size="5" font-weight="bold" textLength="23" lengthAdjust="spacingAndGlyphs">0.75 = 9"</text>
<text x="295" y="756.0" font-size="5" font-weight="bold" textLength="27" lengthAdjust="spacingAndGlyphs">0.05 = 5/8"</text>
<text x="330" y="756.0" font-size="5" font-weight="bold" textLength="22.5" lengthAdjust="spacingAndGlyphs">0.33 = 4"</text>
<text x="365.5" y="756.0" font-size="5" font-weight="bold" textLength="25.5" lengthAdjust="spacingAndGlyphs">0.83 = 10"</text>
<text x="295" y="761.5" font-size="5" font-weight="bold" textLength="27" lengthAdjust="spacingAndGlyphs">0.06 = 3/4"</text>
<text x="330" y="761.5" font-size="5" font-weight="bold" textLength="22.5" lengthAdjust="spacingAndGlyphs">0.42 = 5"</text>
<text x="365.5" y="761.5" font-size="5" font-weight="bold" textLength="25.5" lengthAdjust="spacingAndGlyphs">0.92 = 11"</text>
<text x="295" y="766.9" font-size="5" font-weight="bold" textLength="27" lengthAdjust="spacingAndGlyphs">0.07 = 7/8"</text>
<text x="330" y="766.9" font-size="5" font-weight="bold" textLength="22.5" lengthAdjust="spacingAndGlyphs">0.50 = 6"</text>
<text x="365.5" y="766.9" font-size="5" font-weight="bold" textLength="25.5" lengthAdjust="spacingAndGlyphs">1.00 = 12"</text>
<text x="291" y="780.3" font-size="7" textLength="164" lengthAdjust="spacingAndGlyphs">NOTES: *Property corners were staked per customer.</text>
<text x="291" y="788" font-size="7" textLength="179" lengthAdjust="spacingAndGlyphs">*AutoCad file will not be provided under this contract.  *For</text>
<text x="295" y="795.5" font-size="7" textLength="174" lengthAdjust="spacingAndGlyphs">building restrictions refer  to your abstract, deed, contract,</text>
<text x="295" y="803" font-size="7" textLength="174" lengthAdjust="spacingAndGlyphs">title policy and local ordinances.   *Assume no dimension</text>
<text x="295" y="810.7" font-size="7" textLength="175" lengthAdjust="spacingAndGlyphs">from scaling upon this plat.      *Compare all points before</text>
<text x="295" y="818.3" font-size="7" textLength="129" lengthAdjust="spacingAndGlyphs">building and report any difference at once.</text>
<text x="291" y="830.3" font-size="6.6" textLength="62" lengthAdjust="spacingAndGlyphs">Scale: 1 Inch equals</text>
<text x="394.5" y="830.3" font-size="6.6" textLength="7" lengthAdjust="spacingAndGlyphs">15</text>
<text x="455.5" y="830.3" font-size="6.6" textLength="15.5" lengthAdjust="spacingAndGlyphs">Feet.</text>
<line x1="291" y1="831.5" x2="471.5" y2="831.5" stroke-width="0.9"/>
<text x="291" y="840" font-size="6.6" textLength="37.5" lengthAdjust="spacingAndGlyphs">Ordered By:</text>
<text x="376" y="840" font-size="6.6" textLength="43" lengthAdjust="spacingAndGlyphs">John O'Shena</text>
<line x1="291" y1="840.9" x2="470.5" y2="840.9" stroke-width="0.9"/>
<text x="291" y="849.5" font-size="6.6" textLength="45.5" lengthAdjust="spacingAndGlyphs">Order Number:</text>
<text x="389.5" y="849.5" font-size="6.6" textLength="20.5" lengthAdjust="spacingAndGlyphs">2834C</text>
<line x1="291" y1="850.6" x2="471" y2="850.6" stroke-width="0.9"/>
<text x="505" y="770" font-size="6.8" textLength="52.5" lengthAdjust="spacingAndGlyphs">State of Illinois  )</text>
<text x="556.5" y="778" font-size="6.8" font-weight="bold" textLength="18.5" lengthAdjust="spacingAndGlyphs">)  S.S.</text>
<text x="505" y="786" font-size="6.8" textLength="52.5" lengthAdjust="spacingAndGlyphs">County of Cook  )</text>
<text x="515" y="801" font-size="6.9" textLength="286.5" lengthAdjust="spacingAndGlyphs">Central Survey LLC does hereby certify that on on the ground survey per record description of</text>
<text x="505" y="808.8" font-size="6.9" textLength="298" lengthAdjust="spacingAndGlyphs">the land shown hereon was performed on Mar. 16, 2021 and that the map or plat hereon drawn is</text>
<text x="505" y="816.4" font-size="6.9" textLength="298" lengthAdjust="spacingAndGlyphs">a correct representation of said survey.   When bearings are shown the bearing base is assumed.</text>
<text x="505" y="824" font-size="6.9" textLength="298" lengthAdjust="spacingAndGlyphs">Dimensions are shown in feet and hundredths and are correct at a temperature of 68° Fahrenheit</text>
<text x="505" y="841.3" font-size="7" font-weight="bold" textLength="135.5" lengthAdjust="spacingAndGlyphs">Dated this 16th day of March  2021</text>
<line x1="505" y1="845" x2="803" y2="845.3" stroke-width="0.9"/>
<text x="505" y="852" font-size="5" textLength="127" lengthAdjust="spacingAndGlyphs">William R. Webb P.L.S.  #2190   (exp.11.30/2022)</text>
<text x="641" y="852" font-size="5" textLength="161" lengthAdjust="spacingAndGlyphs">Professional Design Firm Land Surveying LLC.  (#184-005417)</text>
<text x="668" y="844" font-size="15.5" font-style="italic" textLength="49.3" lengthAdjust="spacingAndGlyphs" transform="translate(668 844) skewX(-14) translate(-668 -844)" style='font-family:"Liberation Serif",serif;stroke-width:0.1px;fill:#2a2a2a'>William</text>
<text x="722" y="844" font-size="15.5" font-style="italic" textLength="12" lengthAdjust="spacingAndGlyphs" transform="translate(722 844) skewX(-14) translate(-722 -844)" style='font-family:"Liberation Serif",serif;stroke-width:0.1px;fill:#2a2a2a'>R.</text>
<text x="745.3" y="844" font-size="15.5" font-style="italic" textLength="34.7" lengthAdjust="spacingAndGlyphs" transform="translate(745.3 844) skewX(-14) translate(-745.3 -844)" style='font-family:"Liberation Serif",serif;stroke-width:0.1px;fill:#2a2a2a'>Webb</text>
<circle cx="751.8" cy="725" r="36.4" stroke-width="2.7" stroke="#3a3a3a"/>
<circle cx="751.8" cy="725" r="25.4" stroke-width="1.6" stroke="#3a3a3a"/>
<path id="sealTop" d="M724.1999999999999 725 A27.6 27.6 0 0 1 779.4 725" stroke="none"/>
<path id="sealBot" d="M718.1999999999999 725 A33.6 33.6 0 0 0 785.4 725" stroke="none"/>
<text font-size="8.8" style="stroke:#2a2a2a;stroke-width:0.3"><textPath href="#sealTop" startOffset="50%" text-anchor="middle" textLength="68" lengthAdjust="spacing">William R. Webb</textPath></text>
<text font-size="8.8" style="stroke:#2a2a2a;stroke-width:0.3"><textPath href="#sealBot" startOffset="50%" text-anchor="middle" textLength="86" lengthAdjust="spacing">Chicago, Illinois</textPath></text>
<text x="751.8" y="711.8" font-size="8" text-anchor="middle" textLength="19.5" lengthAdjust="spacingAndGlyphs">2190</text>
<text x="751.8" y="720.3" font-size="7" text-anchor="middle" textLength="41" lengthAdjust="spacingAndGlyphs">Professional</text>
<text x="751.8" y="726.2" font-size="7" text-anchor="middle" textLength="15.5" lengthAdjust="spacingAndGlyphs">Land</text>
<text x="751.8" y="733.3" font-size="7" text-anchor="middle" textLength="29" lengthAdjust="spacingAndGlyphs">Surveyor</text>
<text x="751.8" y="740.5" font-size="7" text-anchor="middle" textLength="25" lengthAdjust="spacingAndGlyphs">State of</text>
<text x="751.8" y="746.8" font-size="7" text-anchor="middle" textLength="20" lengthAdjust="spacingAndGlyphs">Illinois</text>
<path d="M747.3 760.3 L749.1999999999999 765.5 L754.4 765.5 L756.3 760.3 Z" fill="#444" stroke-width="0.8" stroke="#444" />
<rect x="699.9" y="766.5" width="103.6" height="22.3" stroke-width="2.4" stroke="#444"/>
<text x="751.7" y="773.7" font-size="5.5" text-anchor="middle" textLength="90" lengthAdjust="spacingAndGlyphs">This professional service conforms</text>
<text x="751.7" y="780.2" font-size="5.6" text-anchor="middle" font-weight="bold" textLength="96" lengthAdjust="spacingAndGlyphs">to current Illinois minimum standards</text>
<text x="751.7" y="786.2" font-size="5.5" text-anchor="middle" textLength="58" lengthAdjust="spacingAndGlyphs">for a boundary survey.</text>
</g>
</svg>
</body>
</html>
